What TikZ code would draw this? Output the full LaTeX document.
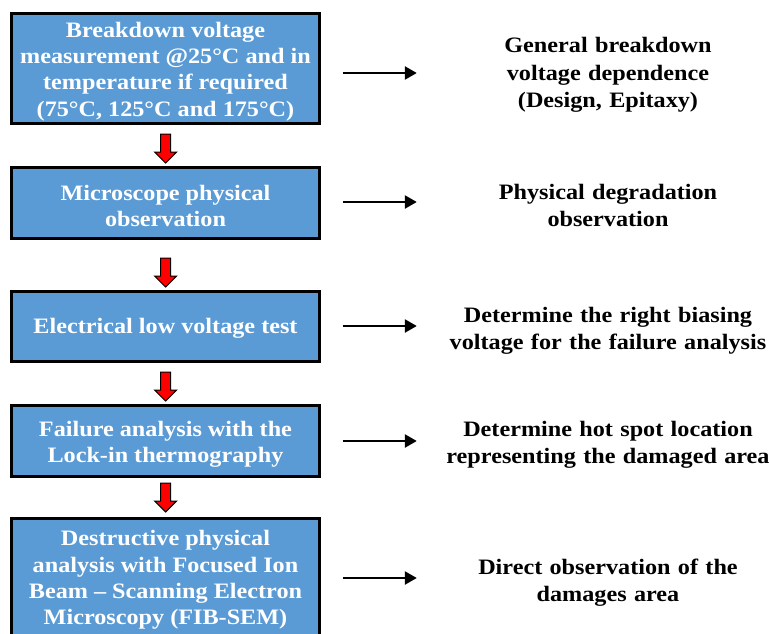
\documentclass[tikz,border=0pt]{standalone}
\usepackage{fontspec}
\setmainfont{Liberation Serif}[FakeStretch=1.1]
\usetikzlibrary{arrows.meta,calc}
\definecolor{boxblue}{RGB}{91,155,213}
\begin{document}
\begin{tikzpicture}[x=1pt,y=1pt,
  stage/.style={draw=black, line width=3pt, fill=boxblue, minimum width=308pt, inner sep=0pt},
  stagetext/.style={text=white, font=\fontsize{22}{26.2}\selectfont\bfseries, align=center, inner sep=0pt},
  result/.style={text width=382pt, align=center, inner sep=0pt,
    font=\fontsize{22}{27.5}\selectfont\bfseries},
  redarr/.style={fill=red, draw=black, line width=1pt, line join=miter},
  link/.style={line width=2.5pt, -{Triangle[length=12pt,width=13pt]}},
  redblock/.pic={\draw[redarr] (-5,14.5) -- (5,14.5) -- (5,-3.5) -- (11,-3.5) -- (0,-14.5) -- (-11,-3.5) -- (-5,-3.5) -- cycle;}]
\useasboundingbox (0,0) rectangle (769,-634);

\node[stage, minimum height=110pt] (b1) at (165.5,-68.5) {};
\node[stage, minimum height=71pt] (b2) at (165.5,-203) {};
\node[stage, minimum height=70pt] (b3) at (165.5,-326.5) {};
\node[stage, minimum height=71pt] (b4) at (165.5,-441) {};
\node[stage, minimum height=119pt] (b5) at (165.5,-578) {};

\node[stagetext] (l1) at ([yshift=-3pt]b1.center)
  {Breakdown voltage\\measurement @25°C and in\\temperature if required\\(75°C, 125°C and 175°C)};
\node[stagetext] (l2) at ([yshift=-3pt]b2.center) {Microscope physical\\observation};
\node[stagetext] (l3) at ([yshift=-2pt]b3.center) {Electrical low voltage test};
\node[stagetext] (l4) at ([yshift=-3pt]b4.center) {Failure analysis with the\\Lock-in thermography};
\node[stagetext] (l5) at ([yshift=-2pt]b5.center)
  {Destructive physical\\analysis with Focused Ion\\Beam – Scanning Electron\\Microscopy (FIB-SEM)};

\pic at (165.7,-148.5) {redblock};
\pic at (165.7,-272.5) {redblock};
\pic at (165.7,-386.5) {redblock};
\pic at (165.7,-497.5) {redblock};

\node[result] (t1) at (608,-75) {General breakdown\\voltage dependence\\(Design, Epitaxy)};
\node[result] (t2) at (608,-205.5) {Physical degradation\\observation};
\node[result] (t3) at (608,-331) {Determine the right biasing\\voltage for the failure analysis};
\node[result] (t4) at (608,-445) {Determine hot spot location\\representing the damaged area};
\node[result] (t5) at (608,-582.5) {Direct observation of the\\damages area};

\draw[link] ([shift={(-74pt,2pt)}]t1.west) -- ([yshift=2pt]t1.west);
\draw[link] ([shift={(-74pt,3.5pt)}]t2.west) -- ([yshift=3.5pt]t2.west);
\draw[link] ([shift={(-74pt,5pt)}]t3.west) -- ([yshift=5pt]t3.west);
\draw[link] ([shift={(-74pt,4pt)}]t4.west) -- ([yshift=4pt]t4.west);
\draw[link] ([shift={(-74pt,4.5pt)}]t5.west) -- ([yshift=4.5pt]t5.west);
\end{tikzpicture}
\end{document}
